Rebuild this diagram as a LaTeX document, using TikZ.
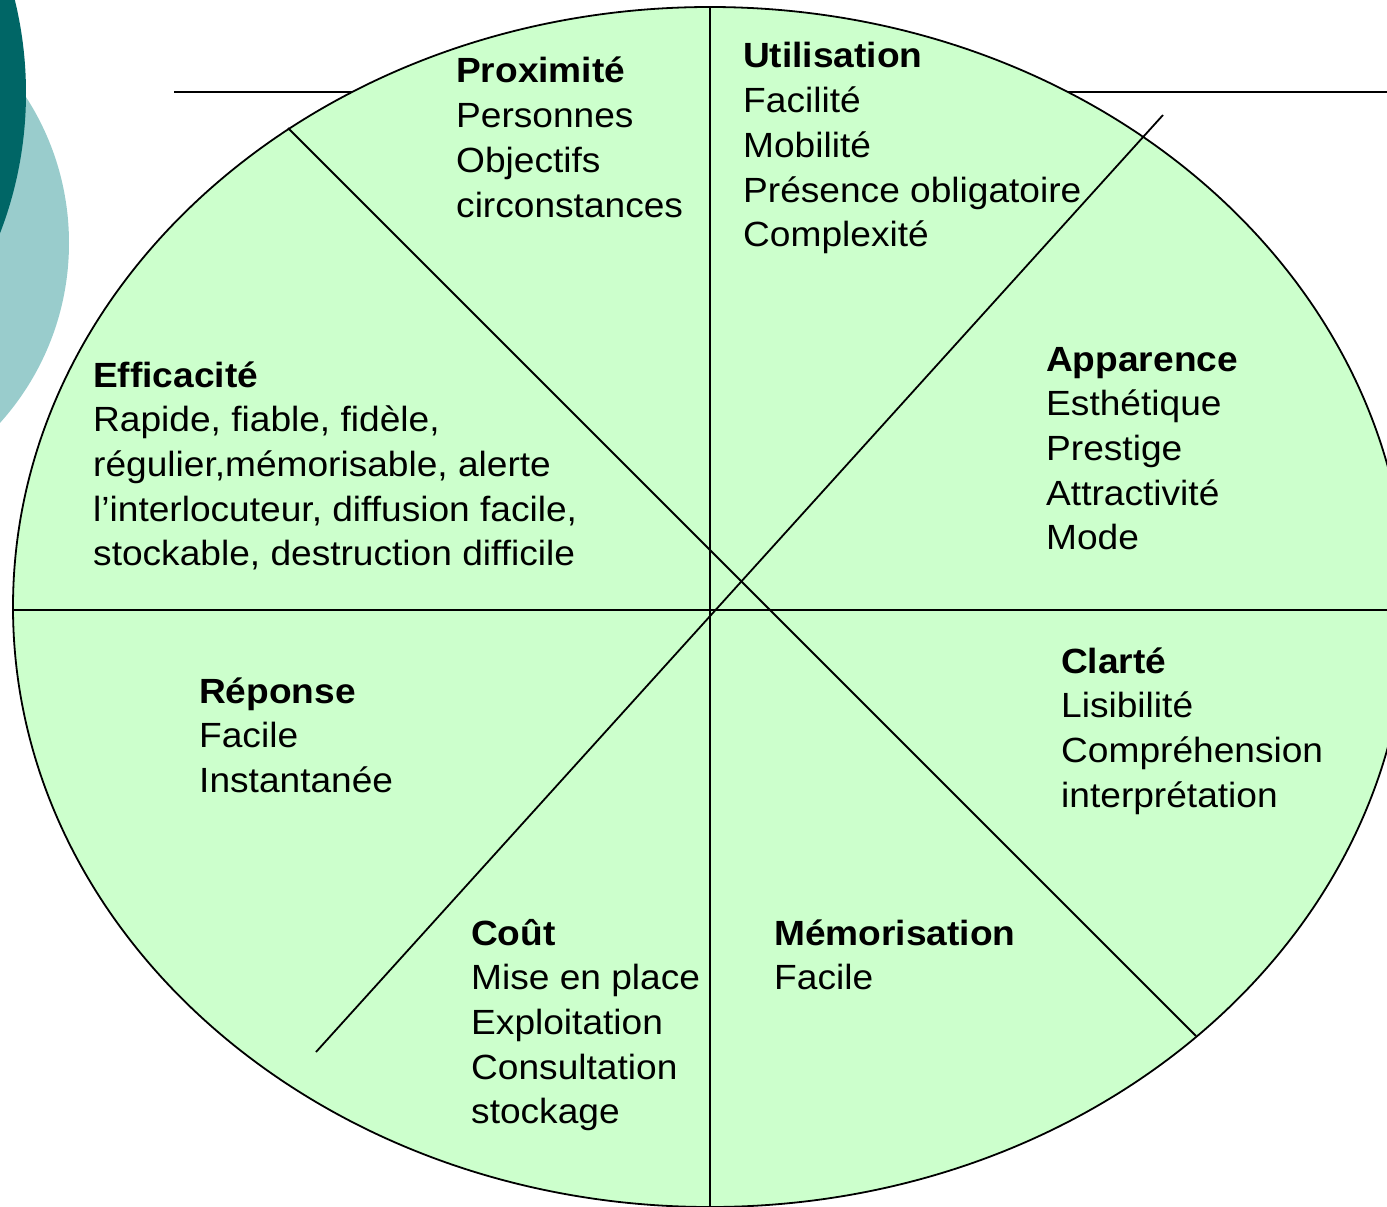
\documentclass[tikz,border=0pt]{standalone}
\usepackage{fontspec}
\setmainfont{Liberation Sans}[FakeStretch=1.06]
\definecolor{petal}{HTML}{CCFFCC}
\definecolor{tealdark}{HTML}{006666}
\definecolor{teallight}{HTML}{99CCCC}
\tikzset{
  lbl/.style={anchor=base west, inner sep=0pt, font=\fontsize{35}{44.7}\selectfont},
  divider/.style={draw=black, line width=1.8pt},
}
\newcommand{\blk}[1]{\begin{tabular}[t]{@{}l@{}}#1\end{tabular}}
\begin{document}
\begin{tikzpicture}[x=1pt,y=-1pt]
\useasboundingbox (0,0) rectangle (1387,1207);
\clip (0,0) rectangle (1387,1207);
% background decorations
\fill[teallight] (-200,243) circle (269);
\fill[tealdark] (-364,93) circle (390);
\draw[line width=2.8pt] (174,92) -- (1400,92);
% main ellipse
\fill[petal] (710,607) ellipse [x radius=697, y radius=600];
\coordinate (vt) at (710,7);
\coordinate (vb) at (710,1210);
\coordinate (hl) at (13,610);
\coordinate (hr) at (1410,610);
\coordinate (d1a) at (288,128);
\coordinate (d1b) at (1196,1036);
\coordinate (d2a) at (1163,115);
\coordinate (d2b) at (316,1052);
\draw[divider] (vt) -- (vb);
\draw[divider] (hl) -- (hr);
\draw[divider] (d1a) -- (d1b);
\draw[divider] (d2a) -- (d2b);
\draw[line width=1.8pt] (710,607) ellipse [x radius=697, y radius=600];
% texts
\node[lbl] (prox) at (456,83) {\blk{\textbf{Proximité}\\Personnes\\Objectifs\\circonstances}};
\node[lbl] (util) at (743,68) {\blk{\textbf{Utilisation}\\Facilité\\Mobilité\\Présence obligatoire\\Complexité}};
\node[lbl] (effi) at (93,387) {\blk{\textbf{Efficacité}\\Rapide, fiable, fidèle,\\régulier,mémorisable, alerte\\l’interlocuteur, diffusion facile,\\stockable, destruction difficile}};
\node[lbl] (appa) at (1046,371) {\blk{\textbf{Apparence}\\Esthétique\\Prestige\\Attractivité\\Mode}};
\node[lbl] (clar) at (1061,673) {\blk{\textbf{Clarté}\\Lisibilité\\Compréhension\\interprétation}};
\node[lbl] (repo) at (199,703) {\blk{\textbf{Réponse}\\Facile\\Instantanée}};
\node[lbl] (cout) at (471,945) {\blk{\textbf{Coût}\\Mise en place\\Exploitation\\Consultation\\stockage}};
\node[lbl] (memo) at (774,945) {\blk{\textbf{Mémorisation}\\Facile}};
\end{tikzpicture}
\end{document}
